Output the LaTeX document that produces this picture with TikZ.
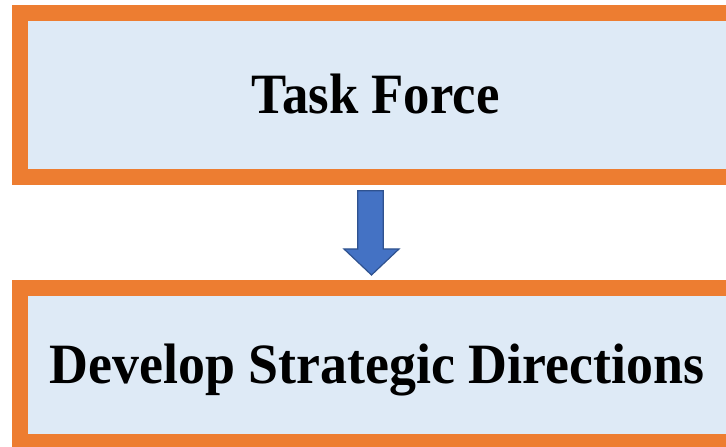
\documentclass[tikz,border=0pt]{standalone}
\usepackage{fontspec}
\setmainfont{Liberation Serif}
\definecolor{boxorange}{HTML}{ED7D31}
\definecolor{boxfill}{HTML}{DEEAF6}
\definecolor{arrowfill}{HTML}{4472C4}
\definecolor{arrowline}{HTML}{2F528F}
\begin{document}
\begin{tikzpicture}[x=1pt,y=1pt,
  bigbox/.style={draw=boxorange,fill=boxfill,line width=16pt,inner sep=0pt,minimum width=730pt},
  label/.style={font=\bfseries\fontsize{57}{64}\selectfont,inner sep=0pt,anchor=base}]
\useasboundingbox (0,0) rectangle (726,447);
\clip (0,0) rectangle (726,447);
\node[bigbox,minimum height=164pt] (topbox) at (385,352) {};
\node[bigbox,minimum height=154pt] (botbox) at (385,82) {};
\node[label,xscale=0.925] (tasktxt) at (375.7,333.7) {Task Force};
\node[label,xscale=0.945] (devtxt) at (377,63) {Develop Strategic Directions};
\coordinate (arrtop) at (370.5,256.3);
\coordinate (arrtip) at (371.5,172);
\draw[fill=arrowfill,draw=arrowline,line width=1.2pt,line join=miter]
  ([xshift=-12.8pt]arrtop) -- ([xshift=12.8pt]arrtop) -- (383.3,198) -- (399,198)
  -- (arrtip) -- (344,198) -- (357.7,198) -- cycle;
\end{tikzpicture}
\end{document}
